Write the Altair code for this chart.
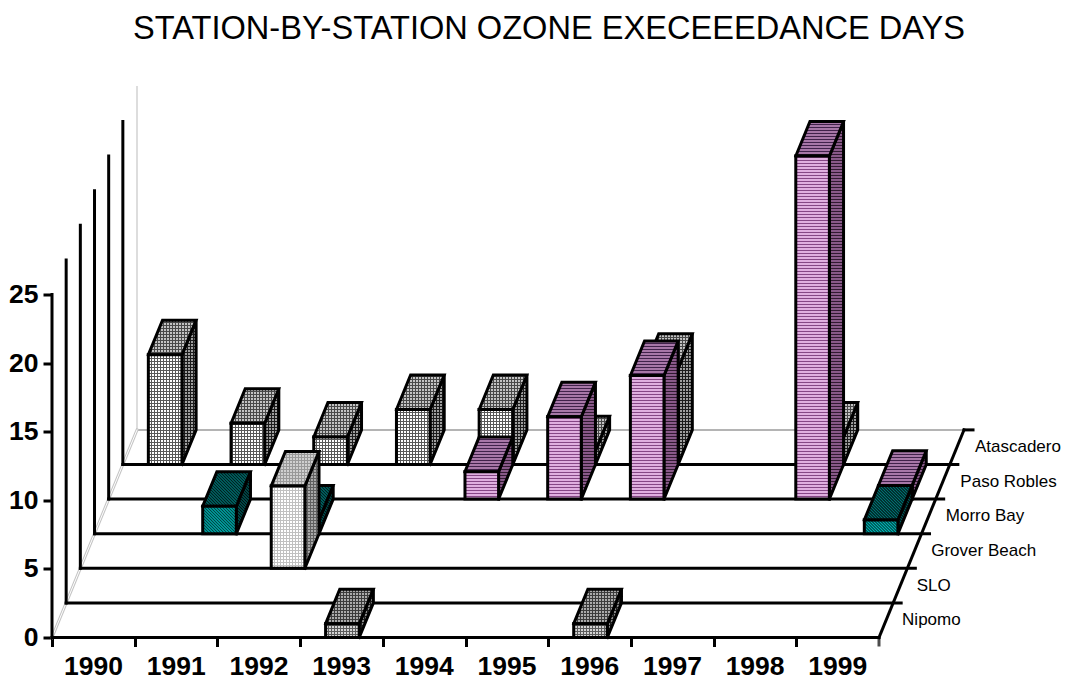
import math
import altair as alt
import pandas as pd

alt.data_transformers.disable_max_rows()

YEARS = ["1990", "1991", "1992", "1993", "1994", "1995", "1996", "1997", "1998", "1999"]
STATIONS = ["Nipomo", "SLO", "Grover Beach", "Morro Bay", "Paso Robles", "Atascadero"]
NIPOMO = [0, 0, 0, 1, 0, 0, 1, 0, 0, 0]
SLO = [0, 0, 0, 0, 0, 0, 0, 0, 0, 0]
GROVER = [0, 0, 6, 0, 0, 0, 0, 0, 0, 0]
MORRO = [0, 2, 1, 0, 0, 0, 0, 0, 0, 1]
PASO = [0, 0, 0, 0, 2, 6, 9, 0, 25, 1]
ATASCADERO = [8, 3, 2, 4, 4, 1, 7, 0, 2, 0]
SERIES = [NIPOMO, SLO, GROVER, MORRO, PASO, ATASCADERO]

# texture: kind, spacing, (front, top, side) as (base, line)
STYLES = {
    0: ("grid", 3, (("#d4d4d4", "#5c5c5c"), ("#acacac", "#3c3c3c"), ("#888888", "#1c1c1c"))),
    2: ("grid", 3, (("#ffffff", "#c0c0c0"), ("#d0d0d0", "#989898"), ("#a8a8a8", "#606060"))),
    3: ("diag", 2.12, (("#00bcbc", "#004444"), ("#007c7c", "#002020"), ("#006464", "#001010"))),
    4: ("horiz", 3, (("#e0b0e0", "#844684"), ("#a878a8", "#40224a"), ("#8a5a8a", "#301a30"))),
    5: ("grid", 3, (("#ffffff", "#585858"), ("#c4c4c4", "#484848"), ("#a0a0a0", "#1c1c1c"))),
}

PX = 82.7      # pixels per year slot
PY = 13.72     # pixels per exceedance day
SX = 14.17     # horizontal shift per station row
SY = 34.6      # vertical shift per station row
BAR_OFF = 25.5
BAR_W = 33.6
OUT = 3

rows = []
gid = [0]


def emit(points, fill, stroke, width):
    gid[0] += 1
    for i, (x, y) in enumerate(points):
        rows.append({"x": x / PX, "y": y / PY, "g": gid[0], "o": i,
                     "fill": fill, "stroke": stroke, "sw": width})


def hatch(poly, nx, ny, spacing, color, width=1, shift=0.5):
    vals = [p[0] * nx + p[1] * ny for p in poly]
    k0 = math.floor(min(vals) / spacing)
    k1 = math.ceil(max(vals) / spacing)
    for k in range(k0, k1 + 1):
        c = k * spacing + shift
        hits = []
        for i in range(len(poly)):
            a, b = poly[i], poly[(i + 1) % len(poly)]
            va, vb = vals[i] - c, vals[(i + 1) % len(poly)] - c
            if va * vb < 0:
                t = va / (va - vb)
                hits.append((a[0] + t * (b[0] - a[0]), a[1] + t * (b[1] - a[1])))
        if len(hits) == 2:
            emit(hits, "transparent", color, width)


def face(poly, kind, spacing, base, line):
    closed = poly + [poly[0]]
    emit(closed, base, "transparent", 0)
    if kind == "grid":
        hatch(poly, 1, 0, spacing, line)
        hatch(poly, 0, 1, spacing, line, shift=0.01)
    elif kind == "horiz":
        hatch(poly, 0, 1, spacing, line, shift=0.01)
    else:
        s = math.sqrt(0.5)
        hatch(poly, s, s, spacing, line, 1.2)
    emit(closed, "transparent", "#000000", OUT)


def seg(p, q, color="#000000", width=OUT):
    emit([p, q], "transparent", color, width)


# walls and floor, drawn behind the bars
X_END = 10 * PX
H25 = 25 * PY
seg((6 * SX, 6 * SY), (6 * SX, 6 * SY + H25), "#dddddd", 2)
seg((6 * SX, 6 * SY), (X_END + 6 * SX, 6 * SY), "#b4b4b4", 2)
seg((0, 0), (6 * SX, 6 * SY), "#c4c4c4", 3)
seg((0, 0), (6 * SX, 6 * SY), "#ffffff", 1)
seg((X_END + 6 * SX, 6 * SY), (X_END + 6 * SX + 9, 6 * SY))
seg((0, 0), (0, H25))
seg((X_END, 0), (X_END + 6 * SX, 6 * SY))
for k in range(1, 6):
    seg((k * SX, k * SY), (k * SX, k * SY + H25))
    seg((k * SX, k * SY), (X_END + k * SX + 8, k * SY))
seg((0, 0), (X_END, 0))

# bars, painted from the back row to the front, left to right
for k in range(5, -1, -1):
    if k not in STYLES:
        continue
    kind, sp, ((fb, fl), (tb, tl), (sb, sl)) = STYLES[k]
    for slot, v in enumerate(SERIES[k]):
        if v <= 0:
            continue
        x0 = slot * PX + BAR_OFF + k * SX
        x1 = x0 + BAR_W
        y0 = k * SY
        y1 = y0 + v * PY
        face([(x1, y0), (x1 + SX, y0 + SY), (x1 + SX, y1 + SY), (x1, y1)], kind, sp, sb, sl)
        face([(x0, y1), (x1, y1), (x1 + SX, y1 + SY), (x0 + SX, y1 + SY)], kind, sp, tb, tl)
        face([(x0, y0), (x1, y0), (x1, y1), (x0, y1)], kind, sp, fb, fl)

df = pd.DataFrame(rows)

W, H = 1010, 577
x_scale = alt.Scale(domain=[0, W / PX], range=[0, W], nice=False, zero=False)
y_scale = alt.Scale(domain=[0, H / PY], range=[H, 0], nice=False, zero=False)

lab_expr = "[" + ",".join(f"'{y}'" for y in YEARS) + "][datum.value] || ''"

lines = alt.Chart(df).mark_line(strokeCap="square", strokeJoin="miter", clip=False).encode(
    x=alt.X("x:Q", scale=x_scale, axis=alt.Axis(
        values=list(range(10)), domain=False, grid=False, title=None,
        tickSize=9, tickWidth=3, tickColor="#000000",
        labelExpr=lab_expr, labelOffset=41, labelPadding=6.5, labelAngle=0,
        labelFont="Liberation Sans", labelFontSize=26.5, labelFontWeight="bold",
        labelColor="#000000", labelOverlap=False, labelFlush=False)),
    y=alt.Y("y:Q", scale=y_scale, axis=alt.Axis(
        values=[0, 5, 10, 15, 20, 25], domain=False, grid=False, title=None,
        tickSize=9, tickWidth=3, tickColor="#000000", labelPadding=5,
        labelFont="Liberation Sans", labelFontSize=26.5, labelFontWeight="bold",
        labelColor="#000000", labelOverlap=False, labelFlush=False)),
    detail="g:N",
    order="o:Q",
    fill=alt.Fill("fill:N", scale=None),
    stroke=alt.Stroke("stroke:N", scale=None),
    strokeWidth=alt.StrokeWidth("sw:Q", scale=None),
)

# final tick at the right end of the category axis
end_tick = alt.Chart(pd.DataFrame({"x": [len(YEARS)]})).mark_tick(
    orient="vertical", color="#000000", thickness=3, size=9, yOffset=4.5
).encode(x=alt.X("x:Q", scale=x_scale), y=alt.value(H))

label_df = pd.DataFrame({
    "name": STATIONS,
    "x": [(X_END + (k + 0.5) * SX + 16 + 0.4 * k) / PX for k in range(6)],
    "y": [(k + 0.5) * SY / PY for k in range(6)],
})
labels = alt.Chart(label_df).mark_text(
    align="left", baseline="middle", font="Liberation Sans", fontSize=17, color="#000000"
).encode(
    x=alt.X("x:Q", scale=x_scale),
    y=alt.Y("y:Q", scale=y_scale),
    text="name:N",
)

chart = alt.layer(lines, end_tick, labels).properties(
    width=W,
    height=H,
    padding={"left": 44, "top": 52.5, "right": 0, "bottom": 42.5},
    autosize=alt.AutoSizeParams(type="none"),
    title=alt.TitleParams(
        "STATION-BY-STATION OZONE EXECEEEDANCE DAYS",
        font="Liberation Sans", fontSize=32.6, fontWeight="normal", color="#000000",
        anchor="middle", dx=-8, offset=15,
    ),
).configure_view(stroke=None)

chart.save("out.html", embed_options={"renderer": "svg", "actions": False})
